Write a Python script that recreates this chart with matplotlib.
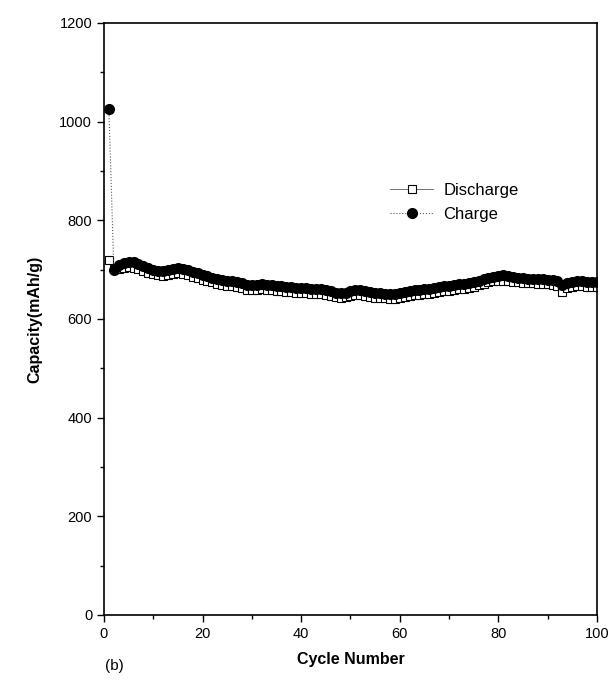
import numpy as np
import matplotlib.pyplot as plt
from matplotlib.ticker import MultipleLocator

plt.rcParams['font.family'] = ['Liberation Sans', 'DejaVu Sans']

# cycle data, capacity in mAh/g
cycles = np.arange(1, 101)

charge = [1025, 700, 710, 714, 716, 715, 712, 708, 703, 700,
          698, 697, 699, 702, 703, 701, 699, 696, 693, 690,
          687, 684, 681, 679, 677, 676, 675, 672, 669, 668,
          669, 670, 669, 668, 667, 666, 665, 664, 663, 662,
          662, 661, 661, 660, 658, 656, 653, 652, 653, 656,
          658, 659, 657, 655, 653, 652, 651, 650, 650, 652,
          655, 657, 658, 659, 660, 661, 662, 664, 666, 667,
          668, 670, 671, 673, 675, 678, 681, 684, 686, 688,
          689, 687, 685, 684, 683, 682, 682, 681, 681, 680,
          679, 676, 668, 672, 675, 676, 676, 675, 675, 675]

discharge = [720, 702, 702, 704, 705, 704, 701, 698, 694, 691,
             689, 688, 689, 692, 693, 691, 689, 686, 683, 680,
             677, 674, 671, 669, 667, 666, 665, 662, 659, 658,
             659, 660, 659, 658, 657, 656, 655, 654, 653, 652,
             652, 651, 651, 650, 648, 646, 644, 643, 644, 646,
             648, 649, 647, 645, 643, 642, 642, 641, 641, 643,
             645, 647, 648, 649, 650, 651, 652, 654, 656, 657,
             658, 660, 661, 663, 665, 668, 671, 674, 676, 678,
             678, 677, 675, 674, 673, 672, 672, 671, 671, 670,
             669, 666, 655, 662, 665, 666, 666, 665, 665, 665]

fig = plt.figure(figsize=(6.16, 6.86), dpi=100)
ax = fig.add_axes([0.1688, 0.1035, 0.8002, 0.863])

ax.plot(cycles, discharge, '-', color='0.35', lw=0.6, marker='s', ms=6,
        mfc='white', mec='black', mew=0.8, label='Discharge')
ax.plot(cycles, charge, ':', color='0.35', lw=0.8, marker='o', ms=7,
        mfc='black', mec='black', label='Charge')

ax.set_xlim(0, 100)
ax.set_ylim(0, 1200)
ax.xaxis.set_major_locator(MultipleLocator(20))
ax.xaxis.set_minor_locator(MultipleLocator(10))
ax.yaxis.set_major_locator(MultipleLocator(200))
ax.yaxis.set_minor_locator(MultipleLocator(100))
ax.tick_params(which='major', direction='out', length=5, width=1, labelsize=10.5)
ax.tick_params(which='minor', direction='out', length=3, width=1)
for s in ax.spines.values():
    s.set_linewidth(1.2)

ax.set_xlabel('Cycle Number', fontsize=11.5, fontweight='bold', labelpad=8)
ax.set_ylabel('Capacity(mAh/g)', fontsize=11.5, fontweight='bold', labelpad=12)
fig.text(0.171, 0.024, '(b)', fontsize=11)

ax.legend(loc='upper left', bbox_to_anchor=(0.55, 0.755), frameon=False,
          fontsize=12, handlelength=2.6, handletextpad=0.6, labelspacing=0.55)

fig.savefig('out.png', dpi=100)
